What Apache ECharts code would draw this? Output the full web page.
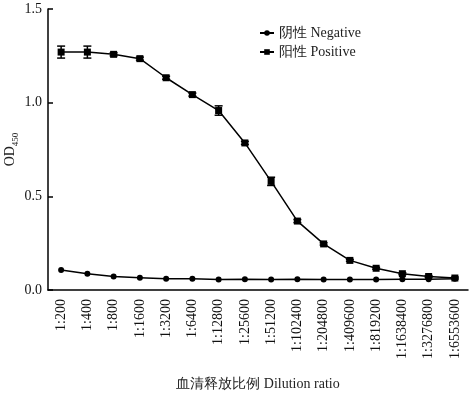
<!DOCTYPE html>
<html><head><meta charset="utf-8">
<script src="https://cdn.jsdelivr.net/npm/echarts@6/dist/echarts.min.js"></script>
<style>html,body{margin:0;padding:0;background:#fff}#c{width:473px;height:393px}</style>
</head><body><div id="c"></div>
<script>
var categories = ['1:200','1:400','1:800','1:1600','1:3200','1:6400','1:12800','1:25600','1:51200','1:102400','1:204800','1:409600','1:819200','1:1638400','1:3276800','1:6553600'];
var negative = [0.107,0.087,0.072,0.066,0.060,0.060,0.056,0.058,0.056,0.057,0.056,0.056,0.056,0.057,0.058,0.060];
var positive = [1.270,1.270,1.258,1.235,1.133,1.043,0.958,0.785,0.580,0.368,0.246,0.158,0.116,0.087,0.072,0.064];
var positiveErr = [0.032,0.032,0.008,0.008,0.008,0.008,0.025,0.008,0.022,0.008,0.006,0.005,0.005,0.005,0.005,0.005];
var yTicks = [0, 0.5, 1.0, 1.5];

var FONT = '"Liberation Serif","Times New Roman",serif';
var chart = echarts.init(document.getElementById('c'));
var errData = positive.map(function(v,i){ return [i, v - positiveErr[i], v + positiveErr[i]]; });
chart.setOption({
  animation: false,
  grid: {left: 48, right: 5, top: 9, bottom: 103, containLabel: false, outerBoundsMode: 'none'},
  legend: {
    orient: 'vertical', left: 254, top: 21, itemWidth: 14, itemHeight: 7, itemGap: 5,
    data: ['阴性 Negative', '阳性 Positive'],
    textStyle: {fontFamily: FONT, fontSize: 14, color: '#222'}
  },
  xAxis: {
    type: 'category', data: categories, boundaryGap: true,
    axisLine: {lineStyle: {color: '#000', width: 1.5}},
    axisTick: {inside: true, alignWithLabel: true, length: 6, lineStyle: {color: '#000', width: 1.5}},
    axisLabel: {rotate: 90, interval: 0, margin: 9, fontFamily: FONT, fontSize: 14, color: '#111'},
    name: '血清释放比例 Dilution ratio', nameLocation: 'middle', nameGap: 87, nameMoveOverlap: false,
    nameTextStyle: {fontFamily: FONT, fontSize: 14, color: '#222'}
  },
  yAxis: {
    type: 'value', min: yTicks[0], max: yTicks[yTicks.length-1], interval: 0.5,
    splitLine: {show: false},
    axisLine: {show: true, lineStyle: {color: '#000', width: 1.5}},
    axisTick: {show: true, inside: true, length: 5, lineStyle: {color: '#000', width: 1.5}},
    axisLabel: {margin: 6, fontFamily: FONT, fontSize: 14, color: '#111', formatter: function(v){ return v.toFixed(1); }},
    name: '{a|OD}{b|450}', nameLocation: 'middle', nameGap: 31, nameMoveOverlap: false,
    nameTextStyle: {
      rich: {
        a: {fontFamily: FONT, fontSize: 14, color: '#222', lineHeight: 16, verticalAlign: 'bottom'},
        b: {fontFamily: FONT, fontSize: 9, color: '#222', lineHeight: 16, verticalAlign: 'bottom', padding: [0,0,-3,0]}
      }
    }
  },
  series: [
    {
      name: '阴性 Negative', type: 'line', data: negative,
      symbol: 'circle', symbolSize: 6,
      lineStyle: {color: '#000', width: 1.5}, itemStyle: {color: '#000'}
    },
    {
      name: '阳性 Positive', type: 'line', data: positive,
      symbol: 'rect', symbolSize: 7,
      lineStyle: {color: '#000', width: 1.5}, itemStyle: {color: '#000'}
    },
    {
      type: 'custom', name: 'err', data: errData, z: 5,
      renderItem: function(params, api){
        var i = api.value(0);
        var lo = api.coord([i, api.value(1)]);
        var hi = api.coord([i, api.value(2)]);
        var w = 4;
        var st = {stroke: '#000', lineWidth: 1.5};
        return {type: 'group', children: [
          {type: 'line', shape: {x1: lo[0], y1: lo[1], x2: hi[0], y2: hi[1]}, style: st},
          {type: 'line', shape: {x1: lo[0]-w, y1: lo[1], x2: lo[0]+w, y2: lo[1]}, style: st},
          {type: 'line', shape: {x1: hi[0]-w, y1: hi[1], x2: hi[0]+w, y2: hi[1]}, style: st}
        ]};
      }
    }
  ]
});
</script></body></html>
